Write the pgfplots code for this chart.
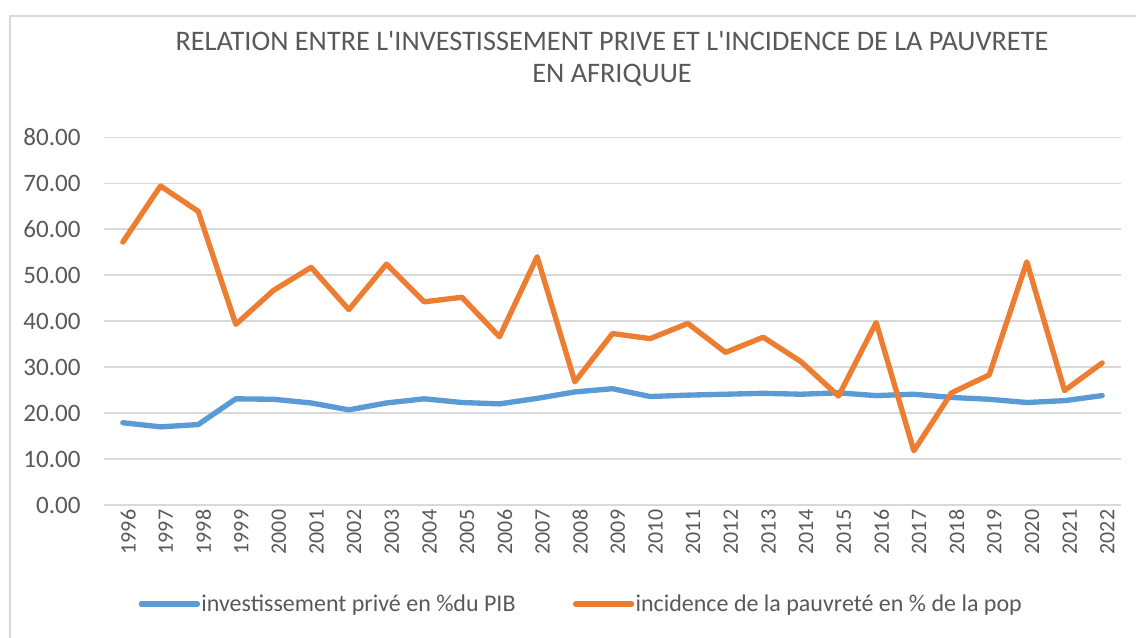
\documentclass[border=0pt]{standalone}
\usepackage{fontspec}
\setmainfont{Carlito}[Ligatures=TeXOff]
\usepackage{pgfplots}
\pgfplotsset{compat=1.18}
\definecolor{txt}{HTML}{595959}
\definecolor{blu}{HTML}{5B9BD5}
\definecolor{ora}{HTML}{ED7D31}
\definecolor{grd}{HTML}{D9D9D9}
\begin{document}
\begin{tikzpicture}
\useasboundingbox (0,0) rectangle (852pt,477.75pt);
\draw[grd, line width=1.2pt] (7.5pt,-5pt) -- (7.5pt,465.75pt) -- (860pt,465.75pt);
\node[txt, align=center, font=\fontsize{21.2}{24}\selectfont] at (459pt,433.5pt)
  {RELATION ENTRE L'INVESTISSEMENT PRIVE ET L'INCIDENCE DE LA PAUVRETE\\EN AFRIQUUE};
\begin{axis}[
  at={(78pt,99pt)}, anchor=south west, scale only axis,
  width=762.75pt, height=275.8pt,
  xmin=1995.5, xmax=2022.5, ymin=0, ymax=80,
  ytick={0,10,...,80}, xtick={1996,...,2022},
  axis line style={draw=none},
  major tick length=0pt,
  ymajorgrids, grid style={grd, line width=1.1pt},
  tick label style={txt},
  yticklabel style={font=\fontsize{18.8}{22}\selectfont, xshift=-14pt, /pgf/number format/.cd, fixed, fixed zerofill, precision=2, assume math mode=true},
  xticklabel style={font=\fontsize{16.5}{20}\selectfont, rotate=90, anchor=east, yshift=-4pt, /pgf/number format/.cd, 1000 sep={}, assume math mode=true},
  legend style={at={(0.469,-0.269)}, anchor=center, draw=none, fill=none,
    font=\fontsize{18}{21}\selectfont, text=txt,
    nodes={inner xsep=1pt},
    /tikz/every even column/.append style={column sep=42pt}},
  legend columns=2,
  legend image code/.code={\draw[#1, line cap=round] (0pt,0pt) -- (42pt,0pt);},
]
\addplot[blu, line width=4pt, line join=round, line cap=round] coordinates {
(1996,17.9)(1997,17.0)(1998,17.5)(1999,23.1)(2000,23.0)(2001,22.2)(2002,20.7)
(2003,22.2)(2004,23.1)(2005,22.3)(2006,22.0)(2007,23.2)(2008,24.6)(2009,25.3)
(2010,23.6)(2011,23.9)(2012,24.1)(2013,24.3)(2014,24.1)(2015,24.4)(2016,23.8)
(2017,24.1)(2018,23.4)(2019,23.0)(2020,22.3)(2021,22.7)(2022,23.8)};
\addlegendentry{investissement privé en \%du PIB}
\addplot[ora, line width=4pt, line join=round, line cap=round] coordinates {
(1996,57.2)(1997,69.4)(1998,63.9)(1999,39.3)(2000,46.7)(2001,51.7)(2002,42.5)
(2003,52.4)(2004,44.2)(2005,45.2)(2006,36.6)(2007,54.0)(2008,26.8)(2009,37.3)
(2010,36.2)(2011,39.5)(2012,33.2)(2013,36.5)(2014,31.2)(2015,23.7)(2016,39.7)
(2017,11.8)(2018,24.4)(2019,28.3)(2020,52.9)(2021,24.9)(2022,30.9)};
\addlegendentry{incidence de la pauvreté en \% de la pop}
\end{axis}
\end{tikzpicture}
\end{document}
